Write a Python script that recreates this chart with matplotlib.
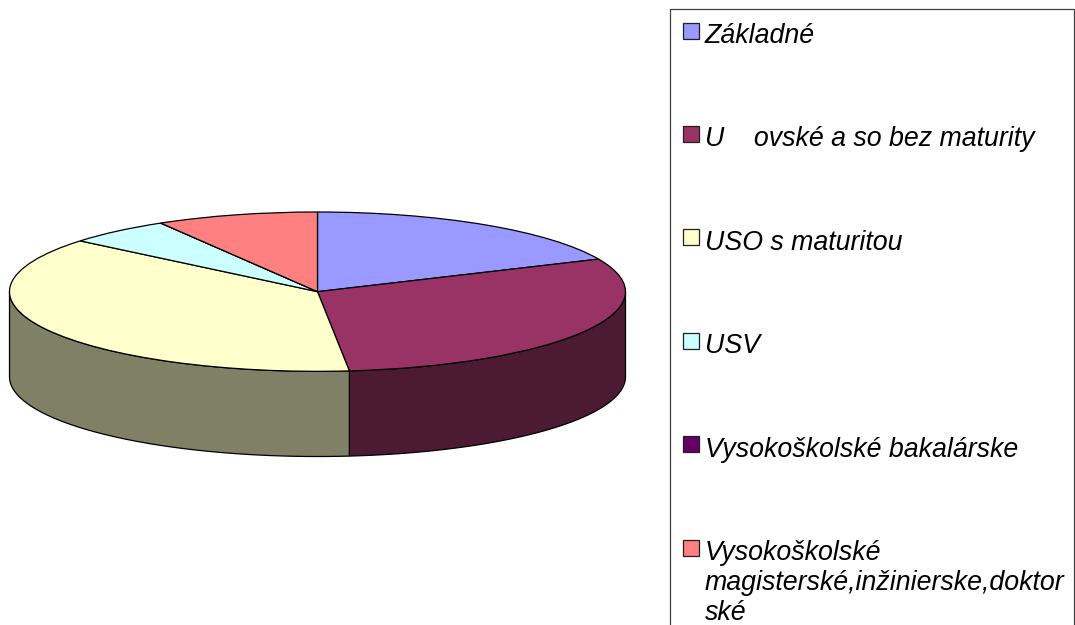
import numpy as np
import matplotlib
matplotlib.use("Agg")
import matplotlib.pyplot as plt
from matplotlib.patches import Rectangle

# shares (percent)
labels = [
    "Základné",
    "U    ovské a so bez maturity",
    "USO s maturitou",
    "USV",
    "Vysokoškolské bakalárske",
    "Vysokoškolské\nmagisterské,inžinierske,doktor\nské",
]
values = [18.3, 30.05, 37.65, 5.5, 0.0, 8.5]
colors = ["#9999FF", "#993366", "#FFFFCC", "#CCFFFF", "#660066", "#FF8080"]
side_colors = ["#4D4D80", "#4D1A33", "#808066", "#668080", "#330033", "#804040"]

W, H = 1075, 625
DEPTH = 85 / 79.5  # wall height, in units of the squashed radius

plt.rcParams["font.family"] = ["Liberation Sans", "DejaVu Sans"]

fig = plt.figure(figsize=(W / 100, H / 100), dpi=100, facecolor="white")

# pie axes: ellipse spans x 9.5-625.5, y 212-371, walls hang below it
ax = fig.add_axes([9.5 / W, 1 - 456.5 / H, 616 / W, 244.5 / H])
ax.pie(values, colors=colors, startangle=90, counterclock=False, radius=1,
       wedgeprops=dict(edgecolor="black", linewidth=0.9, clip_on=False, zorder=3))
ax.set_aspect("auto")
ax.set_xlim(-1, 1)
ax.set_ylim(-1 - DEPTH, 1)

# side walls of the front half, clockwise angles from 12 o'clock
edges = np.concatenate([[0], np.cumsum(values)]) / np.sum(values) * 360
for i in range(len(values)):
    a0 = max(edges[i], 90)
    a1 = min(edges[i + 1], 270)
    if a1 <= a0:
        continue
    t = np.radians(np.linspace(a0, a1, 150))
    x = np.sin(t)
    y = np.cos(t)
    ax.fill(np.r_[x, x[::-1]], np.r_[y, y[::-1] - DEPTH], facecolor=side_colors[i],
            edgecolor="black", linewidth=0.9, clip_on=False, zorder=2)

# legend box runs off the bottom of the picture
leg = fig.add_axes([0, 0, 1, 1], facecolor="none")
leg.set_xlim(0, W)
leg.set_ylim(H, 0)
leg.axis("off")
leg.add_patch(Rectangle((669.5, 8.5), 404, 640, facecolor="none", edgecolor="#404040", linewidth=0.9))

row_top = 22.5
row_step = 103.4
for i, name in enumerate(labels):
    top = row_top + i * row_step
    leg.add_patch(Rectangle((682.5, top), 16, 16, facecolor=colors[i], edgecolor="#202020", linewidth=0.9))
    leg.text(705, top + 0.5, name, fontsize=19.25, fontstyle="italic", color="black",
             va="top", ha="left", linespacing=1.2)

fig.savefig("out.png", dpi=100)
